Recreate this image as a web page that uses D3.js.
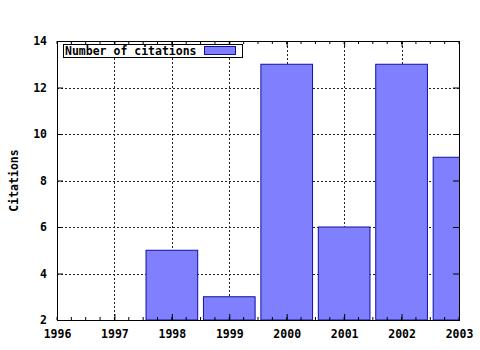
<!DOCTYPE html>
<html>
<head>
<meta charset="utf-8">
<script src="https://cdn.jsdelivr.net/npm/d3@7"></script>
<style>
  body { margin: 0; background: #fff; }
  text { font-family: "DejaVu Sans Mono", monospace; font-weight: bold; font-size: 11.5px; fill: #000; }
</style>
</head>
<body>
<div id="chart"></div>
<script>
// data
const years = [1998, 1999, 2000, 2001, 2002, 2003];
const citations = [5, 3, 13, 6, 13, 9];
const xTicks = [1996, 1997, 1998, 1999, 2000, 2001, 2002, 2003];
const yTicks = [2, 4, 6, 8, 10, 12, 14];

const width = 480, height = 350;
const margin = { top: 41, right: 21, bottom: 30, left: 57 };

const svg = d3.select('#chart').append('svg')
    .attr('width', width)
    .attr('height', height);

const x = d3.scaleLinear().domain([1996, 2003]).range([margin.left, width - margin.right]);
const y = d3.scaleLinear().domain([2, 14]).range([height - margin.bottom, margin.top]);

// clip for bars
svg.append('clipPath').attr('id', 'plot')
  .append('rect')
    .attr('x', x(1996)).attr('y', y(14))
    .attr('width', x(2003) - x(1996)).attr('height', y(2) - y(14));

// grid
const grid = svg.append('g').attr('stroke', '#222').attr('stroke-dasharray', '2,2').attr('shape-rendering', 'crispEdges');
grid.selectAll('.gx').data(xTicks.slice(1, -1)).enter().append('line')
    .attr('x1', d => Math.round(x(d)) + 0.5).attr('x2', d => Math.round(x(d)) + 0.5)
    .attr('y1', y(2)).attr('y2', y(14));
grid.selectAll('.gy').data(yTicks.slice(1, -1)).enter().append('line')
    .attr('y1', d => Math.round(y(d)) + 0.5).attr('y2', d => Math.round(y(d)) + 0.5)
    .attr('x1', x(1996)).attr('x2', x(2003));

// bars
const bw = 0.9;
svg.append('g').attr('clip-path', 'url(#plot)')
  .selectAll('rect').data(years).enter().append('rect')
    .attr('x', d => x(d - bw / 2))
    .attr('width', d => x(d + bw / 2) - x(d - bw / 2))
    .attr('y', (d, i) => y(citations[i]))
    .attr('height', (d, i) => y(2) - y(citations[i]))
    .attr('fill', '#8080ff')
    .attr('stroke', '#1010a0')
    .attr('stroke-width', 1);

// axes (gnuplot style: ticks inward, mirrored)
const minor = d3.range(1996, 2003.001, 0.25);
const xAxisB = d3.axisBottom(x).tickValues(xTicks).tickFormat(d3.format('d')).tickSize(-6).tickPadding(10);
const xAxisT = d3.axisTop(x).tickValues(xTicks).tickFormat('').tickSize(-6);
const yAxisL = d3.axisLeft(y).tickValues(yTicks).tickSize(-6).tickPadding(10);
const yAxisR = d3.axisRight(y).tickValues(yTicks).tickFormat('').tickSize(-6);

function style(g) {
  g.select('.domain').remove();
  g.selectAll('line').attr('stroke', '#000');
  g.attr('font-family', null).attr('font-size', null);
}

svg.append('g').attr('transform', `translate(0,${y(2)})`).call(xAxisB).call(style);
svg.append('g').attr('transform', `translate(0,${y(14)})`).call(xAxisT).call(style);
svg.append('g').attr('transform', `translate(${x(1996)},0)`).call(yAxisL).call(style);
svg.append('g').attr('transform', `translate(${x(2003)},0)`).call(yAxisR).call(style);

// minor x ticks
svg.append('g').selectAll('line').data(minor).enter().append('line')
    .attr('x1', d => x(d)).attr('x2', d => x(d))
    .attr('y1', y(2)).attr('y2', y(2) - 3).attr('stroke', '#000');
svg.append('g').selectAll('line').data(minor).enter().append('line')
    .attr('x1', d => x(d)).attr('x2', d => x(d))
    .attr('y1', y(14)).attr('y2', y(14) + 3).attr('stroke', '#000');

// border
svg.append('rect')
    .attr('x', x(1996) + 0.5).attr('y', y(14) + 0.5)
    .attr('width', x(2003) - x(1996)).attr('height', y(2) - y(14))
    .attr('fill', 'none').attr('stroke', '#000');

// y label
svg.append('text')
    .attr('transform', `translate(18,${(y(2) + y(14)) / 2}) rotate(-90)`)
    .attr('text-anchor', 'middle')
    .text('Citations');

// legend
const lg = svg.append('g');
lg.append('rect').attr('x', 63.5).attr('y', 44.5).attr('width', 179).attr('height', 13)
    .attr('fill', '#fff').attr('stroke', '#000');
lg.append('text').attr('x', 65).attr('y', 55).text('Number of citations');
lg.append('rect').attr('x', 204.5).attr('y', 46.5).attr('width', 31).attr('height', 8)
    .attr('fill', '#8080ff').attr('stroke', '#1010a0');
</script>
</body>
</html>
